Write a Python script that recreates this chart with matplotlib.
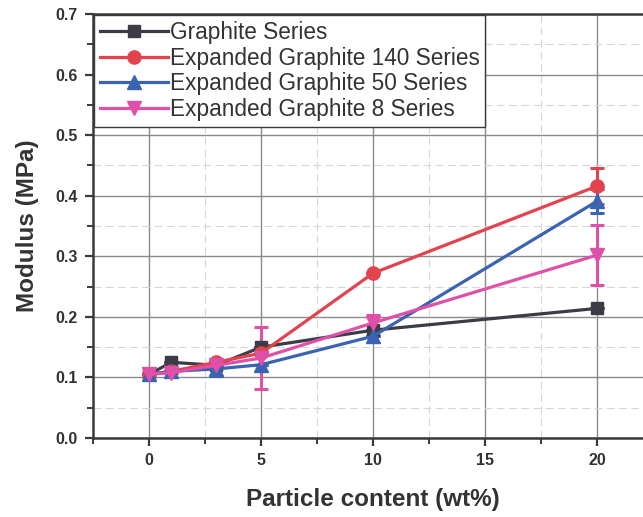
import matplotlib
matplotlib.use("Agg")
import matplotlib.pyplot as plt
from matplotlib.ticker import MultipleLocator, FormatStrFormatter
from matplotlib.lines import Line2D

# Particle content (wt%)
content = [0, 1, 3, 5, 10, 20]

# Modulus (MPa) for each series
graphite = [0.105, 0.125, 0.120, 0.150, 0.178, 0.214]
eg140 = [0.105, 0.110, 0.125, 0.140, 0.272, 0.416]
eg50 = [0.105, 0.110, 0.114, 0.121, 0.168, 0.391]
eg8 = [0.105, 0.108, 0.120, 0.132, 0.190, 0.302]

# Standard deviations
graphite_err = [0.0, 0.0, 0.0, 0.0, 0.0, 0.0]
eg140_err = [0.0, 0.0, 0.0, 0.0, 0.0, 0.030]
eg50_err = [0.0, 0.0, 0.012, 0.0, 0.0, 0.020]
eg8_err = [0.0, 0.0, 0.0, 0.051, 0.013, 0.050]

labels = ["Graphite Series", "Expanded Graphite 140 Series",
          "Expanded Graphite 50 Series", "Expanded Graphite 8 Series"]

plt.rcParams['font.family'] = ['Liberation Sans', 'DejaVu Sans']

fig = plt.figure(figsize=(6.43, 5.17), dpi=100)
ax = fig.add_axes([0.1446, 0.1528, 0.871, 0.820])

series = [
    (graphite, graphite_err, "#3c3c46", "s", 8.5),
    (eg140, eg140_err, "#e2434f", "o", 9.5),
    (eg50, eg50_err, "#3a64b2", "^", 10),
    (eg8, eg8_err, "#e050a8", "v", 10),
]

handles = []
for (vals, errs, color, marker, ms), lab in zip(series, labels):
    ax.errorbar(content, vals, yerr=errs, color=color, marker=marker,
                markersize=ms, linewidth=2.3, elinewidth=2.2,
                capsize=5, capthick=2.2, zorder=3)
    handles.append(Line2D([], [], color=color, marker=marker, markersize=ms,
                          linewidth=2.3, label=lab))

ax.set_xlim(-2.5, 22.5)
ax.set_ylim(0.0, 0.7)
ax.xaxis.set_major_locator(MultipleLocator(5))
ax.xaxis.set_minor_locator(MultipleLocator(2.5))
ax.yaxis.set_major_locator(MultipleLocator(0.1))
ax.yaxis.set_minor_locator(MultipleLocator(0.05))
ax.yaxis.set_major_formatter(FormatStrFormatter('%.1f'))

ax.grid(which='major', color='#8a8a8a', linewidth=1.0, linestyle='-', zorder=0)
ax.grid(which='minor', color='#d6d6d6', linewidth=0.8, linestyle=(0, (7, 4)), zorder=0)
ax.set_axisbelow(True)

for side in ['left', 'bottom', 'top', 'right']:
    ax.spines[side].set_color('#3a3a3a')
    ax.spines[side].set_linewidth(1.8)

ax.tick_params(which='major', direction='out', length=6, width=1.6,
               colors='#3a3a3a', labelsize=11.5, pad=5)
ax.tick_params(which='minor', direction='out', length=4, width=1.4, colors='#3a3a3a')
ax.tick_params(axis='both', top=False, right=False)
for t in ax.get_xticklabels() + ax.get_yticklabels():
    t.set_fontweight('bold')
    t.set_color('#333333')

ax.set_xlabel("Particle content (wt%)", fontsize=17.5, fontweight='bold',
              color='#333333', labelpad=14)
ax.set_ylabel("Modulus (MPa)", fontsize=17.5, fontweight='bold',
              color='#333333', labelpad=12)

leg = ax.legend(handles=handles, loc='upper left', fontsize=16.3,
                frameon=True, fancybox=False, edgecolor='#3a3a3a',
                framealpha=1.0, borderaxespad=0.05, handlelength=3.0,
                handletextpad=0.1, labelspacing=0.12, borderpad=0.25)
leg.get_frame().set_linewidth(1.0)
for txt in leg.get_texts():
    txt.set_color('#333333')

fig.savefig("out.png", dpi=100, facecolor='white')
